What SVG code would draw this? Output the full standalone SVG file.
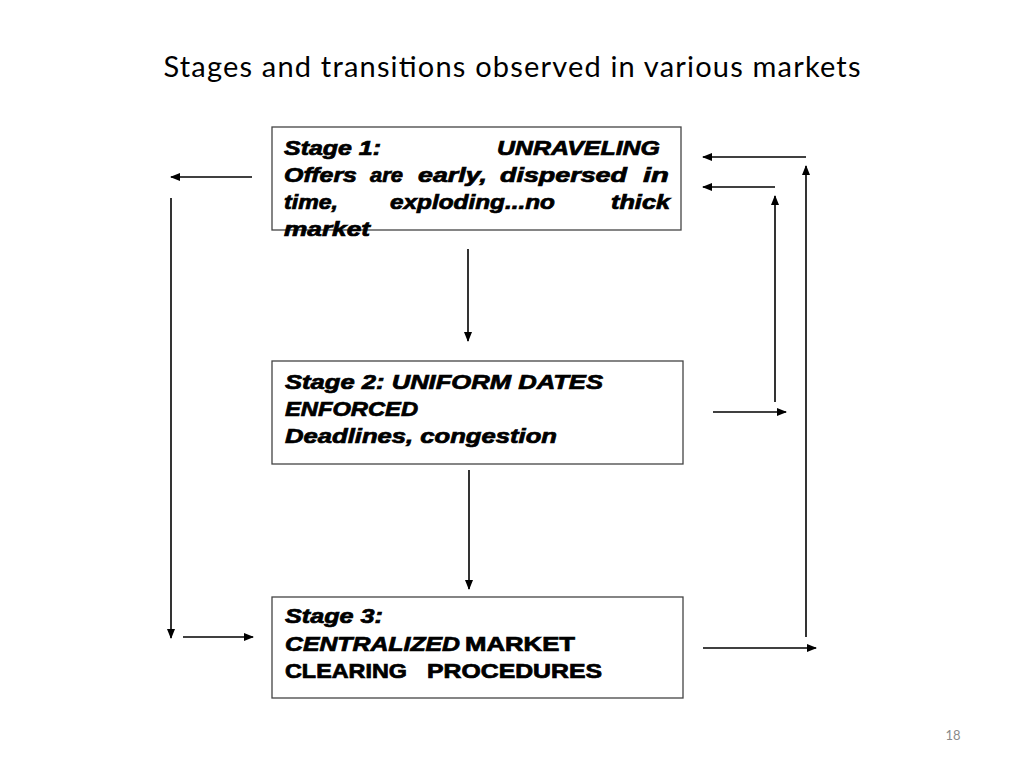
<svg xmlns="http://www.w3.org/2000/svg" width="1024" height="768" viewBox="0 0 1024 768">
<defs>
<marker id="ah" markerWidth="10" markerHeight="8" refX="9" refY="4" orient="auto" markerUnits="userSpaceOnUse">
<path d="M0,0 L10,4 L0,8 Z" fill="#000"/>
</marker>
<style>
.box{fill:#fff;stroke:#444;stroke-width:1.3}
.t{font-family:"Liberation Sans",Arial,sans-serif;font-size:19.5px;font-weight:bold;fill:#000;stroke:#000;stroke-width:0.7}
.i{font-style:italic}
.c{stroke:#000;stroke-width:1.6;fill:none;marker-end:url(#ah)}
</style>
</defs>
<rect width="1024" height="768" fill="#fff"/>
<text x="512" y="77" text-anchor="middle" font-family="Lato,'Open Sans',sans-serif" font-size="29" fill="#000" textLength="697" lengthAdjust="spacing">Stages and transitions observed in various markets</text>

<g id="connectors">
<line class="c" x1="468" y1="249" x2="468" y2="341"/>
<line class="c" x1="469" y1="470" x2="469" y2="589"/>
<line class="c" x1="252" y1="177" x2="171" y2="177"/>
<line class="c" x1="171" y1="198" x2="171" y2="638"/>
<line class="c" x1="183" y1="637" x2="253" y2="637"/>
<line class="c" x1="806" y1="157" x2="703" y2="157"/>
<line class="c" x1="775" y1="187" x2="703" y2="187"/>
<line class="c" x1="775" y1="402" x2="775" y2="196"/>
<line class="c" x1="713" y1="412" x2="786" y2="412"/>
<line class="c" x1="806" y1="637" x2="806" y2="166"/>
<line class="c" x1="703" y1="648" x2="816" y2="648"/>
</g>

<g id="stage1">
<rect class="box" x="272" y="127" width="409" height="103"/>
<text class="t i" x="284" y="155" textLength="97" lengthAdjust="spacingAndGlyphs">Stage 1:</text>
<text class="t i" x="497" y="155" textLength="163" lengthAdjust="spacingAndGlyphs">UNRAVELING</text>
<text class="t i" x="284" y="182" textLength="73" lengthAdjust="spacingAndGlyphs">Offers</text>
<text class="t i" x="370" y="182" textLength="33" lengthAdjust="spacingAndGlyphs">are</text>
<text class="t i" x="418" y="182" textLength="69" lengthAdjust="spacingAndGlyphs">early,</text>
<text class="t i" x="500" y="182" textLength="127" lengthAdjust="spacingAndGlyphs">dispersed</text>
<text class="t i" x="643" y="182" textLength="26" lengthAdjust="spacingAndGlyphs">in</text>
<text class="t i" x="284" y="209" textLength="54" lengthAdjust="spacingAndGlyphs">time,</text>
<text class="t i" x="390" y="209" textLength="165" lengthAdjust="spacingAndGlyphs">exploding...no</text>
<text class="t i" x="611" y="209" textLength="59" lengthAdjust="spacingAndGlyphs">thick</text>
<text class="t i" x="284" y="236" textLength="86" lengthAdjust="spacingAndGlyphs">market</text>
</g>

<g id="stage2">
<rect class="box" x="272" y="361" width="411" height="103"/>
<text class="t i" x="285" y="389" textLength="318" lengthAdjust="spacingAndGlyphs">Stage 2: UNIFORM DATES</text>
<text class="t i" x="285" y="416" textLength="133" lengthAdjust="spacingAndGlyphs">ENFORCED</text>
<text class="t i" x="285" y="443" textLength="272" lengthAdjust="spacingAndGlyphs">Deadlines, congestion</text>
</g>

<g id="stage3">
<rect class="box" x="272" y="597" width="411" height="101"/>
<text class="t i" x="285" y="623" textLength="98" lengthAdjust="spacingAndGlyphs">Stage 3:</text>
<text class="t i" x="285" y="651" textLength="175" lengthAdjust="spacingAndGlyphs">CENTRALIZED</text>
<text class="t" x="465" y="651" textLength="110" lengthAdjust="spacingAndGlyphs">MARKET</text>
<text class="t" x="285" y="678" textLength="122" lengthAdjust="spacingAndGlyphs">CLEARING</text>
<text class="t" x="427" y="678" textLength="175" lengthAdjust="spacingAndGlyphs">PROCEDURES</text>
</g>

<text x="953" y="740" text-anchor="middle" font-family="Lato,'Open Sans',sans-serif" font-size="13" fill="#8a8a8a">18</text>
</svg>
